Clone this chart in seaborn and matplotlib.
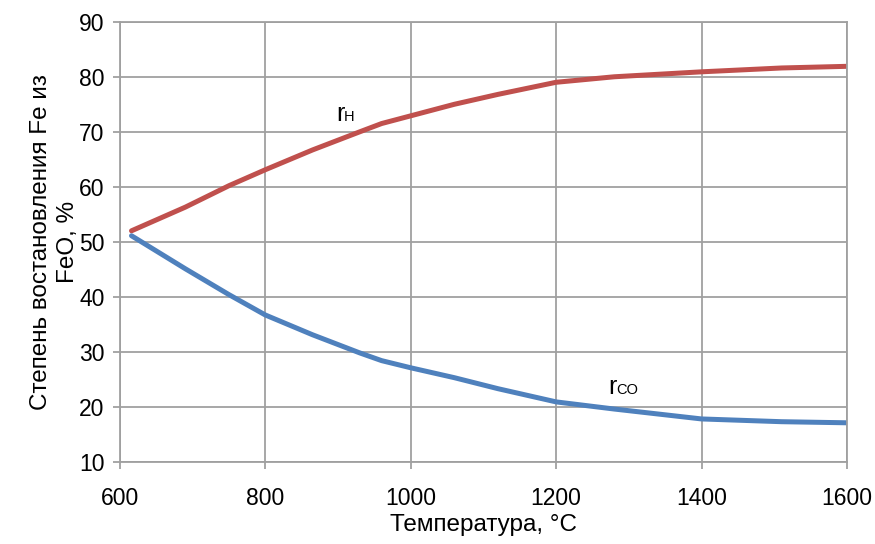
import numpy as np
import pandas as pd
import matplotlib.pyplot as plt
import seaborn as sns
from matplotlib import font_manager

# data
temp = [616, 690, 750, 800, 865, 930, 960, 1000, 1060, 1120, 1200, 1280, 1400, 1510, 1600]
r_h = [52.0, 56.3, 60.2, 63.1, 66.7, 70.0, 71.5, 72.9, 75.0, 76.8, 79.0, 80.0, 80.9, 81.6, 81.9]
r_co = [51.1, 45.1, 40.4, 36.7, 33.1, 29.8, 28.4, 27.1, 25.3, 23.3, 20.9, 19.6, 17.8, 17.3, 17.1]

xticks = [600, 800, 1000, 1200, 1400, 1600]
yticks = [10, 20, 30, 40, 50, 60, 70, 80, 90]

sns.set_style("white")
names = {f.name for f in font_manager.fontManager.ttflist}
fam = "Liberation Sans Narrow" if "Liberation Sans Narrow" in names else "Liberation Sans"
plt.rcParams['font.family'] = [fam, 'DejaVu Sans']
plt.rcParams['text.color'] = 'black'
plt.rcParams['axes.labelcolor'] = 'black'

df = pd.DataFrame({"t": temp, "rH": r_h, "rCO": r_co})

fig = plt.figure(figsize=(8.75, 5.44), dpi=100)
ax = fig.add_axes([0.137, 0.151, 0.831, 0.809])

sns.lineplot(data=df, x="t", y="rH", ax=ax, color="#C0504D", linewidth=3.6)
sns.lineplot(data=df, x="t", y="rCO", ax=ax, color="#4F81BD", linewidth=3.6)

ax.set_xlim(600, 1600)
ax.set_ylim(10, 90)
ax.set_xticks(xticks)
ax.set_yticks(yticks)
ax.grid(True, color="#A0A0A0", linewidth=1.3)
ax.set_axisbelow(True)
for s in ax.spines.values():
    s.set_color("#A0A0A0")
    s.set_linewidth(1.3)
ax.tick_params(axis="both", labelsize=16.5, colors="black", length=5, width=1.3,
               color="#A0A0A0", direction="out")
ax.tick_params(axis="x", bottom=True, pad=13)
ax.tick_params(axis="y", left=True, pad=6)

ax.set_xlabel("Температура, °C", fontsize=17.5, labelpad=3)
ax.set_ylabel("Степень востановления Fe из\nFeO, %", fontsize=17.5, labelpad=0,
              linespacing=1.3)

ax.text(897, 71.9, "r", fontsize=18, ha="left", va="baseline")
ax.text(908, 71.9, "H", fontsize=10.5, ha="left", va="baseline")
ax.text(1272, 22.4, "r", fontsize=18, ha="left", va="baseline")
ax.text(1283, 22.4, "CO", fontsize=10.5, ha="left", va="baseline")

fig.savefig("out.png", dpi=100)
